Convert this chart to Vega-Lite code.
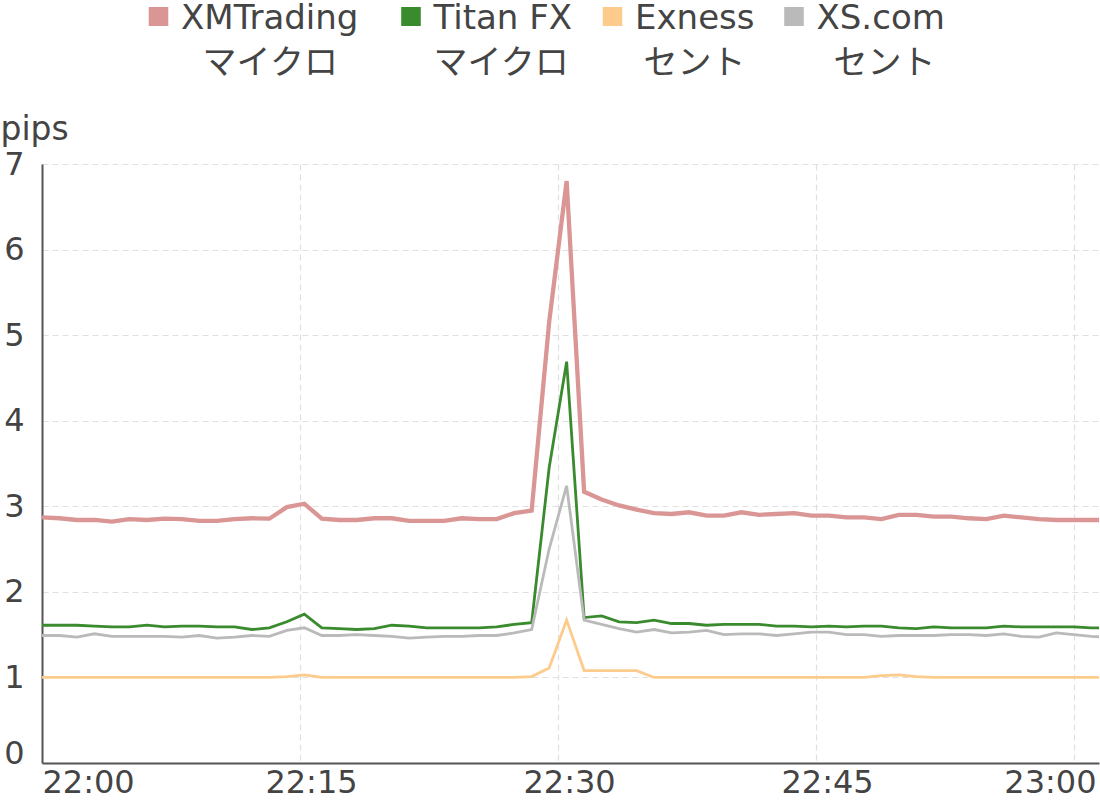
{
  "$schema": "https://vega.github.io/schema/vega-lite/v6.json",
  "width": 1057,
  "height": 599,
  "autosize": {"type": "none"},
  "padding": {"left": 42, "top": 164, "right": 1, "bottom": 37},
  "background": "white",
  "data": {"values": [
    {"t": "2024-01-01T22:00:00", "XMTrading": 2.87, "TitanFX": 1.61, "Exness": 1.00, "XScom": 1.49},
    {"t": "2024-01-01T22:01:01", "XMTrading": 2.86, "TitanFX": 1.61, "Exness": 1.00, "XScom": 1.49},
    {"t": "2024-01-01T22:02:02", "XMTrading": 2.84, "TitanFX": 1.61, "Exness": 1.00, "XScom": 1.47},
    {"t": "2024-01-01T22:03:03", "XMTrading": 2.84, "TitanFX": 1.60, "Exness": 1.00, "XScom": 1.51},
    {"t": "2024-01-01T22:04:04", "XMTrading": 2.82, "TitanFX": 1.59, "Exness": 1.00, "XScom": 1.48},
    {"t": "2024-01-01T22:05:05", "XMTrading": 2.85, "TitanFX": 1.59, "Exness": 1.00, "XScom": 1.48},
    {"t": "2024-01-01T22:06:06", "XMTrading": 2.84, "TitanFX": 1.61, "Exness": 1.00, "XScom": 1.48},
    {"t": "2024-01-01T22:07:07", "XMTrading": 2.855, "TitanFX": 1.59, "Exness": 1.00, "XScom": 1.48},
    {"t": "2024-01-01T22:08:08", "XMTrading": 2.85, "TitanFX": 1.60, "Exness": 1.00, "XScom": 1.47},
    {"t": "2024-01-01T22:09:09", "XMTrading": 2.83, "TitanFX": 1.60, "Exness": 1.00, "XScom": 1.49},
    {"t": "2024-01-01T22:10:10", "XMTrading": 2.83, "TitanFX": 1.59, "Exness": 1.00, "XScom": 1.46},
    {"t": "2024-01-01T22:11:11", "XMTrading": 2.85, "TitanFX": 1.59, "Exness": 1.00, "XScom": 1.47},
    {"t": "2024-01-01T22:12:12", "XMTrading": 2.86, "TitanFX": 1.56, "Exness": 1.00, "XScom": 1.49},
    {"t": "2024-01-01T22:13:13", "XMTrading": 2.855, "TitanFX": 1.58, "Exness": 1.00, "XScom": 1.48},
    {"t": "2024-01-01T22:14:14", "XMTrading": 2.99, "TitanFX": 1.65, "Exness": 1.01, "XScom": 1.55},
    {"t": "2024-01-01T22:15:15", "XMTrading": 3.03, "TitanFX": 1.74, "Exness": 1.03, "XScom": 1.58},
    {"t": "2024-01-01T22:16:16", "XMTrading": 2.855, "TitanFX": 1.58, "Exness": 1.00, "XScom": 1.49},
    {"t": "2024-01-01T22:17:17", "XMTrading": 2.84, "TitanFX": 1.57, "Exness": 1.00, "XScom": 1.49},
    {"t": "2024-01-01T22:18:18", "XMTrading": 2.84, "TitanFX": 1.56, "Exness": 1.00, "XScom": 1.50},
    {"t": "2024-01-01T22:19:19", "XMTrading": 2.86, "TitanFX": 1.57, "Exness": 1.00, "XScom": 1.49},
    {"t": "2024-01-01T22:20:20", "XMTrading": 2.86, "TitanFX": 1.61, "Exness": 1.00, "XScom": 1.48},
    {"t": "2024-01-01T22:21:21", "XMTrading": 2.83, "TitanFX": 1.60, "Exness": 1.00, "XScom": 1.46},
    {"t": "2024-01-01T22:22:22", "XMTrading": 2.83, "TitanFX": 1.58, "Exness": 1.00, "XScom": 1.47},
    {"t": "2024-01-01T22:23:23", "XMTrading": 2.83, "TitanFX": 1.58, "Exness": 1.00, "XScom": 1.48},
    {"t": "2024-01-01T22:24:24", "XMTrading": 2.86, "TitanFX": 1.58, "Exness": 1.00, "XScom": 1.48},
    {"t": "2024-01-01T22:25:25", "XMTrading": 2.85, "TitanFX": 1.58, "Exness": 1.00, "XScom": 1.49},
    {"t": "2024-01-01T22:26:26", "XMTrading": 2.85, "TitanFX": 1.59, "Exness": 1.00, "XScom": 1.49},
    {"t": "2024-01-01T22:27:27", "XMTrading": 2.92, "TitanFX": 1.62, "Exness": 1.00, "XScom": 1.52},
    {"t": "2024-01-01T22:28:28", "XMTrading": 2.95, "TitanFX": 1.64, "Exness": 1.01, "XScom": 1.56},
    {"t": "2024-01-01T22:29:29", "XMTrading": 5.15, "TitanFX": 3.45, "Exness": 1.11, "XScom": 2.50},
    {"t": "2024-01-01T22:30:30", "XMTrading": 6.80, "TitanFX": 4.69, "Exness": 1.67, "XScom": 3.24},
    {"t": "2024-01-01T22:31:31", "XMTrading": 3.17, "TitanFX": 1.70, "Exness": 1.08, "XScom": 1.67},
    {"t": "2024-01-01T22:32:32", "XMTrading": 3.08, "TitanFX": 1.72, "Exness": 1.08, "XScom": 1.62},
    {"t": "2024-01-01T22:33:33", "XMTrading": 3.01, "TitanFX": 1.65, "Exness": 1.08, "XScom": 1.57},
    {"t": "2024-01-01T22:34:34", "XMTrading": 2.96, "TitanFX": 1.64, "Exness": 1.08, "XScom": 1.53},
    {"t": "2024-01-01T22:35:35", "XMTrading": 2.92, "TitanFX": 1.67, "Exness": 1.00, "XScom": 1.56},
    {"t": "2024-01-01T22:36:36", "XMTrading": 2.91, "TitanFX": 1.63, "Exness": 1.00, "XScom": 1.52},
    {"t": "2024-01-01T22:37:37", "XMTrading": 2.93, "TitanFX": 1.63, "Exness": 1.00, "XScom": 1.53},
    {"t": "2024-01-01T22:38:38", "XMTrading": 2.89, "TitanFX": 1.61, "Exness": 1.00, "XScom": 1.55},
    {"t": "2024-01-01T22:39:39", "XMTrading": 2.89, "TitanFX": 1.62, "Exness": 1.00, "XScom": 1.50},
    {"t": "2024-01-01T22:40:40", "XMTrading": 2.93, "TitanFX": 1.62, "Exness": 1.00, "XScom": 1.51},
    {"t": "2024-01-01T22:41:41", "XMTrading": 2.90, "TitanFX": 1.62, "Exness": 1.00, "XScom": 1.51},
    {"t": "2024-01-01T22:42:42", "XMTrading": 2.91, "TitanFX": 1.60, "Exness": 1.00, "XScom": 1.49},
    {"t": "2024-01-01T22:43:43", "XMTrading": 2.92, "TitanFX": 1.60, "Exness": 1.00, "XScom": 1.51},
    {"t": "2024-01-01T22:44:44", "XMTrading": 2.89, "TitanFX": 1.59, "Exness": 1.00, "XScom": 1.53},
    {"t": "2024-01-01T22:45:45", "XMTrading": 2.89, "TitanFX": 1.60, "Exness": 1.00, "XScom": 1.53},
    {"t": "2024-01-01T22:46:46", "XMTrading": 2.87, "TitanFX": 1.59, "Exness": 1.00, "XScom": 1.50},
    {"t": "2024-01-01T22:47:47", "XMTrading": 2.87, "TitanFX": 1.60, "Exness": 1.00, "XScom": 1.50},
    {"t": "2024-01-01T22:48:48", "XMTrading": 2.85, "TitanFX": 1.60, "Exness": 1.02, "XScom": 1.48},
    {"t": "2024-01-01T22:49:49", "XMTrading": 2.90, "TitanFX": 1.58, "Exness": 1.03, "XScom": 1.49},
    {"t": "2024-01-01T22:50:50", "XMTrading": 2.90, "TitanFX": 1.57, "Exness": 1.01, "XScom": 1.49},
    {"t": "2024-01-01T22:51:51", "XMTrading": 2.88, "TitanFX": 1.59, "Exness": 1.00, "XScom": 1.49},
    {"t": "2024-01-01T22:52:52", "XMTrading": 2.88, "TitanFX": 1.58, "Exness": 1.00, "XScom": 1.50},
    {"t": "2024-01-01T22:53:53", "XMTrading": 2.86, "TitanFX": 1.58, "Exness": 1.00, "XScom": 1.50},
    {"t": "2024-01-01T22:54:54", "XMTrading": 2.85, "TitanFX": 1.58, "Exness": 1.00, "XScom": 1.49},
    {"t": "2024-01-01T22:55:55", "XMTrading": 2.89, "TitanFX": 1.60, "Exness": 1.00, "XScom": 1.51},
    {"t": "2024-01-01T22:56:56", "XMTrading": 2.87, "TitanFX": 1.59, "Exness": 1.00, "XScom": 1.48},
    {"t": "2024-01-01T22:57:57", "XMTrading": 2.85, "TitanFX": 1.59, "Exness": 1.00, "XScom": 1.47},
    {"t": "2024-01-01T22:58:58", "XMTrading": 2.84, "TitanFX": 1.59, "Exness": 1.00, "XScom": 1.52},
    {"t": "2024-01-01T22:59:59", "XMTrading": 2.84, "TitanFX": 1.59, "Exness": 1.00, "XScom": 1.50},
    {"t": "2024-01-01T23:01:00", "XMTrading": 2.84, "TitanFX": 1.58, "Exness": 1.00, "XScom": 1.48},
    {"t": "2024-01-01T23:02:01", "XMTrading": 2.84, "TitanFX": 1.58, "Exness": 1.00, "XScom": 1.47}
  ]},
  "transform": [
    {"fold": ["XMTrading", "TitanFX", "Exness", "XScom"], "as": ["broker", "pips"]}
  ],
  "encoding": {
    "x": {
      "field": "t",
      "type": "temporal",
      "scale": {"domain": [
        {"year": 2024, "month": 1, "date": 1, "hours": 22, "minutes": 0, "seconds": 0},
        {"year": 2024, "month": 1, "date": 1, "hours": 23, "minutes": 1, "seconds": 27}
      ]},
      "axis": {
        "values": [
          {"year": 2024, "month": 1, "date": 1, "hours": 22, "minutes": 0},
          {"year": 2024, "month": 1, "date": 1, "hours": 22, "minutes": 15},
          {"year": 2024, "month": 1, "date": 1, "hours": 22, "minutes": 30},
          {"year": 2024, "month": 1, "date": 1, "hours": 22, "minutes": 45},
          {"year": 2024, "month": 1, "date": 1, "hours": 23, "minutes": 0}
        ],
        "format": "%H:%M",
        "title": null,
        "labelFontSize": 32,
        "labelPadding": 4,
        "labelOffset": 11,
        "labelFlush": 30,
        "labelFlushOffset": 11
      }
    },
    "y": {
      "field": "pips",
      "type": "quantitative",
      "scale": {"domain": [0, 7], "nice": false},
      "axis": {
        "values": [0, 1, 2, 3, 4, 5, 6, 7],
        "title": "pips",
        "titleAngle": 0,
        "titleX": -42,
        "titleY": -25,
        "titleAlign": "left",
        "titleBaseline": "alphabetic",
        "titleFontSize": 33,
        "titleFontWeight": "normal",
        "titleColor": "#444444",
        "labelFontSize": 32,
        "labelPadding": 18,
        "labelBaseline": {"condition": {"test": "datum.value == 0", "value": "alphabetic"}, "value": "middle"}
      }
    },
    "color": {
      "field": "broker",
      "type": "nominal",
      "scale": {
        "domain": ["XMTrading", "TitanFX", "Exness", "XScom"],
        "range": ["#d99694", "#3a8a2e", "#fdcb8b", "#bababa"]
      },
      "legend": {
        "orient": "none",
        "legendX": 99.5,
        "legendY": -162,
        "direction": "horizontal",
        "title": null,
        "labelExpr": "datum.value == 'XMTrading' ? ['XMTrading', '\u200b\u00a0\u00a0マイクロ\u00a0\u00a0\u00a0\u200b'] : datum.value == 'TitanFX' ? ['Titan FX', 'マイクロ'] : datum.value == 'Exness' ? ['Exness', '\u200b\u2005セント'] : ['XS.com', '\u200b\u2002セント']",
        "labelFontSize": 34,
        "labelColor": "#444444",
        "labelLimit": 500,
        "labelOffset": 5.5,
        "columnPadding": 22.5,
        "symbolType": "M-0.95,-1.26V0.74M-0.85,-1.26V0.74M-0.75,-1.26V0.74M-0.65,-1.26V0.74M-0.55,-1.26V0.74M-0.45,-1.26V0.74M-0.35,-1.26V0.74M-0.25,-1.26V0.74M-0.15,-1.26V0.74M-0.05,-1.26V0.74M0.05,-1.26V0.74M0.15,-1.26V0.74M0.25,-1.26V0.74M0.35,-1.26V0.74M0.45,-1.26V0.74M0.55,-1.26V0.74M0.65,-1.26V0.74M0.75,-1.26V0.74M0.85,-1.26V0.74M0.95,-1.26V0.74",
        "symbolSize": 361,
        "padding": 0
      }
    }
  },
  "layer": [
    {
      "transform": [{"filter": "datum.broker == 'XMTrading'"}],
      "mark": {"type": "line", "clip": true, "strokeWidth": 4.3}
    },
    {
      "transform": [{"filter": "datum.broker != 'XMTrading'"}],
      "mark": {"type": "line", "clip": true, "strokeWidth": 2.8}
    }
  ],
  "config": {
    "view": {"stroke": null},
    "font": "DejaVu Sans, Noto Sans CJK JP",
    "style": {"guide-label": {"lineHeight": 45}},
    "axis": {
      "labelColor": "#444444",
      "ticks": false,
      "tickSize": 0,
      "domainColor": "#555555",
      "domainWidth": 2,
      "gridColor": "#e0e0e0",
      "gridDash": [6, 4],
      "gridWidth": 1.2
    }
  }
}
